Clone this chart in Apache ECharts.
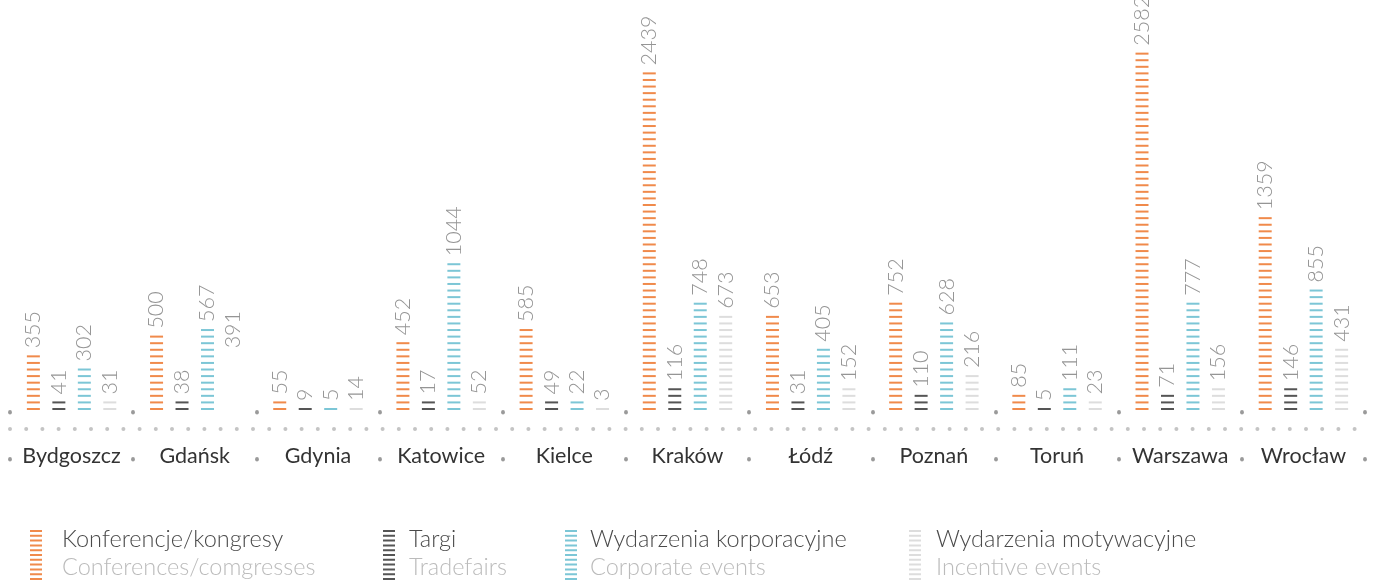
<!DOCTYPE html>
<html>
<head>
<meta charset="utf-8">
<script src="https://cdn.jsdelivr.net/npm/echarts@6/dist/echarts.min.js"></script>
<style>
html, body { margin: 0; padding: 0; background: #fff; }
#main { width: 1378px; height: 580px; }
</style>
</head>
<body>
<div id="main"></div>
<script>
// dane: liczba wydarzeń w miastach
var cities = ['Bydgoszcz', 'Gdańsk', 'Gdynia', 'Katowice', 'Kielce', 'Kraków', 'Łódź', 'Poznań', 'Toruń', 'Warszawa', 'Wrocław'];
var conferences = [355, 500, 55, 452, 585, 2439, 653, 752, 85, 2582, 1359];
var tradefairs = [41, 38, 9, 17, 49, 116, 31, 110, 5, 71, 146];
var corporate = [302, 567, 5, 1044, 22, 748, 405, 628, 111, 777, 855];
var incentive = [31, 391, 14, 52, 3, 673, 152, 216, 23, 156, 431];
var namesPl = ['Konferencje/kongresy', 'Targi', 'Wydarzenia korporacyjne', 'Wydarzenia motywacyjne'];
var namesEn = ['Conferences/comgresses', 'Tradefairs', 'Corporate events', 'Incentive events'];
var incentiveNoBar = [1];   // Gdańsk: w oryginale tylko etykieta, bez słupka

var colors = ['#f08a4b', '#555555', '#7cc6d6', '#dddddd'];
var legendLeft = [30, 383, 565, 909];
var legendTextPad = [15, 9, 8, 10];
var fontLight = 'Lato';

function stripeIcon(n) {
    var p = 'path://';
    for (var i = 0; i < n; i++) {
        p += 'M0,' + (i * 4.8) + 'h12v2h-12z';
    }
    return p;
}

function makeSeries(idx, values, hidden) {
    var data = values.map(function (v, i) {
        if (hidden.indexOf(i) >= 0) {
            return { value: v, itemStyle: { color: 'rgba(0,0,0,0)' } };
        }
        return v;
    });
    return {
        name: namesPl[idx],
        type: 'pictorialBar',
        xAxisIndex: 0,
        barWidth: 13,
        barGap: '96%',
        barCategoryGap: '26%',
        symbol: 'rect',
        symbolRepeat: true,
        symbolSize: [13, 2],
        symbolMargin: 2.33,   // liczone z obu stron -> okres ok. 6.7px
        itemStyle: { color: colors[idx] },
        label: {
            show: true,
            position: 'top',
            rotate: 90,
            align: 'left',
            verticalAlign: 'middle',
            distance: 7,
            color: '#959595',
            fontSize: 21.5,
            fontFamily: fontLight,
            fontWeight: 300
        },
        data: data
    };
}

function makeLegend(idx) {
    var pad = legendTextPad[idx];
    return {
        data: [namesPl[idx]],
        left: legendLeft[idx],
        top: 527,
        padding: 0,
        itemWidth: 12,
        itemHeight: 52,
        icon: stripeIcon(11),
        selectedMode: false,
        formatter: function (name) {
            var i = namesPl.indexOf(name);
            return '{a|' + name + '}\n{b|' + namesEn[i] + '}';
        },
        textStyle: {
            rich: {
                a: { fontSize: 23.5, fontFamily: fontLight, fontWeight: 300, color: '#4a4a4a', lineHeight: 32, padding: [0, 0, 0, pad] },
                b: { fontSize: 23.5, fontFamily: fontLight, fontWeight: 300, color: '#bbb', lineHeight: 32, padding: [0, 0, 7, pad] }
            }
        }
    };
}

var dotTick = { show: true, length: 0.6, lineStyle: { color: '#9a9a9a', width: 3.8, cap: 'round' } };

var chart = echarts.init(document.getElementById('main'));
var option = {
    backgroundColor: '#fff',
    animation: false,
    grid: { left: 10, right: 13, top: 0, bottom: 170 },
    legend: [makeLegend(0), makeLegend(1), makeLegend(2), makeLegend(3)],
    xAxis: [
        {
            type: 'category', data: cities, position: 'bottom',
            axisLine: { show: false }, axisTick: { show: false },
            axisLabel: { interval: 0, margin: 35, fontSize: 21.5, fontFamily: 'Lato', color: '#333' }
        },
        {
            type: 'category', data: cities, position: 'bottom', offset: 2,
            axisLine: { show: false }, axisTick: dotTick, axisLabel: { show: false }
        },
        {
            type: 'category', data: cities, position: 'bottom', offset: 19,
            axisLine: { show: true, lineStyle: { color: '#c4c4c4', width: 4, type: [0, 16.2], cap: 'round' } },
            axisTick: { show: false }, axisLabel: { show: false }
        },
        {
            type: 'category', data: cities, position: 'bottom', offset: 49,
            axisLine: { show: false }, axisTick: dotTick, axisLabel: { show: false }
        }
    ],
    yAxis: { type: 'value', min: 0, max: 2990, show: false },
    series: [
        makeSeries(0, conferences, []),
        makeSeries(1, tradefairs, []),
        makeSeries(2, corporate, []),
        makeSeries(3, incentive, incentiveNoBar)
    ]
};
chart.setOption(option);
</script>
</body>
</html>
